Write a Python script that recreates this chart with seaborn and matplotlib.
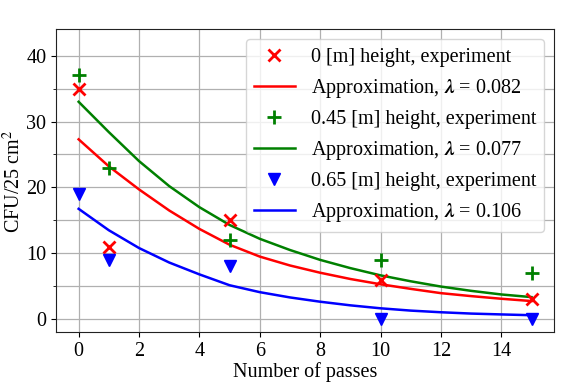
import matplotlib
matplotlib.use("Agg")
import matplotlib.pyplot as plt
import seaborn as sns
import pandas as pd
from matplotlib.ticker import MultipleLocator

# Experimental data
passes = [0, 1, 5, 10, 15]
cfu_0m = [35, 11, 15, 6, 3]
cfu_045m = [37, 23, 12, 9, 7]
cfu_065m = [19, 9, 8, 0, 0]

# Approximation curves
x_fit = [0, 1, 2, 3, 4, 5, 6, 7, 8, 9, 10, 11, 12, 13, 14, 15]
fit_0m = [27.3, 23.2, 19.7, 16.5, 13.7, 11.3, 9.5, 8.15, 7.05, 6.1, 5.3, 4.6, 3.95, 3.5, 3.1, 2.75]
fit_045m = [33.0, 28.4, 24.0, 20.2, 17.0, 14.3, 12.2, 10.5, 9.0, 7.75, 6.65, 5.75, 4.95, 4.3, 3.75, 3.35]
fit_065m = [16.75, 13.5, 10.8, 8.6, 6.8, 5.15, 4.1, 3.3, 2.65, 2.1, 1.65, 1.3, 1.05, 0.85, 0.72, 0.6]

lambdas = ["0.082", "0.077", "0.106"]
heights = ["0", "0.45", "0.65"]

plt.rcParams['font.family'] = ['Liberation Serif', 'DejaVu Serif']
plt.rcParams['mathtext.fontset'] = 'stix'

FS = 14.5

fig = plt.figure(figsize=(5.61, 3.86), dpi=100)
ax = fig.add_axes([0.0998, 0.139, 0.888, 0.785])

series = [
    (cfu_0m, fit_0m, 'red', 'x', 9, 2.0),
    (cfu_045m, fit_045m, 'green', '+', 10, 2.0),
    (cfu_065m, fit_065m, 'blue', 'v', 9, 0.0),
]
for i, (pts, fit, col, mk, ms, mew) in enumerate(series):
    ax.plot(passes, pts, linestyle='none', marker=mk, color=col,
            markersize=ms, markeredgewidth=mew if mew else 1.0,
            label=f"{heights[i]} [m] height, experiment", zorder=3)
    df = pd.DataFrame({"x": x_fit, "y": fit})
    sns.lineplot(data=df, x="x", y="y", color=col, linewidth=1.8, ax=ax,
                 label=r"Approximation, $\mathbfit{\lambda}$ = " + lambdas[i], zorder=2)

ax.set_xlim(-0.75, 15.75)
ax.set_ylim(-2, 44)
ax.xaxis.set_major_locator(MultipleLocator(2))
ax.yaxis.set_major_locator(MultipleLocator(10))
ax.yaxis.set_minor_locator(MultipleLocator(5))
ax.grid(True, which='major', color='#b0b0b0', linewidth=0.9)
ax.grid(True, which='minor', axis='y', color='#b0b0b0', linewidth=0.9)
ax.tick_params(labelsize=FS)
ax.set_xlabel("Number of passes", fontsize=FS, labelpad=1)
ax.set_ylabel(r"CFU/25 cm$^2$", fontsize=FS, labelpad=1)
ax.yaxis.set_label_coords(-0.062, 0.5)
for s in ax.spines.values():
    s.set_color('#222222')

leg = ax.legend(loc='upper right', fontsize=FS, framealpha=0.8,
                borderaxespad=0.5, handlelength=2.0)

fig.savefig("out.png", dpi=100)
